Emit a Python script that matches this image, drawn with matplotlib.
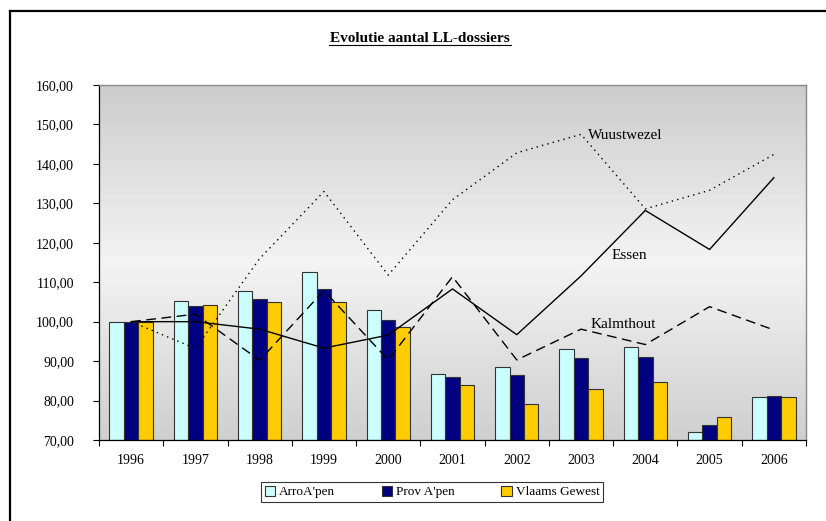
import numpy as np
import matplotlib
matplotlib.use("Agg")
import matplotlib.pyplot as plt
from matplotlib.lines import Line2D
from matplotlib.ticker import FuncFormatter

plt.rcParams["font.family"] = ["Liberation Serif", "DejaVu Serif"]

# ── data ──────────────────────────────────────────────────────────────────────
years = ["1996", "1997", "1998", "1999", "2000", "2001",
         "2002", "2003", "2004", "2005", "2006"]

arro = [100.0, 105.3, 107.9, 112.7, 103.0, 86.8, 88.5, 93.0, 93.5, 72.0, 81.0]
prov = [100.0, 103.9, 105.8, 108.2, 100.5, 85.9, 86.4, 90.8, 91.0, 73.7, 81.2]
vlaams = [100.0, 104.1, 104.9, 104.9, 98.7, 83.9, 79.1, 83.0, 84.8, 75.9, 81.0]

wuustwezel = [100.0, 93.2, 116.0, 133.0, 111.8, 130.9, 142.8, 147.5, 128.6, 133.3, 142.4]
essen = [100.0, 100.0, 98.1, 93.3, 96.6, 108.3, 96.7, 111.6, 128.2, 118.3, 136.5]
kalmthout = [100.0, 101.9, 90.2, 107.9, 90.3, 111.4, 90.3, 98.1, 94.2, 103.8, 97.9]

bar_names = ["ArroA'pen", "Prov A'pen", "Vlaams Gewest"]
bar_colors = ["#CCFFFF", "#000080", "#FFCC00"]

# ── figure ────────────────────────────────────────────────────────────────────
fig = plt.figure(figsize=(8.26, 5.21), dpi=100)
fig.patch.set_facecolor("white")
ax = fig.add_axes([99 / 826, 1 - 440 / 521, 707 / 826, 355 / 521])

# gradient background (gray -> light -> gray)
grad = np.concatenate([np.linspace(0.80, 0.95, 50), np.linspace(0.95, 0.81, 50)])
grad = grad.reshape(-1, 1)
ax.imshow(grad, cmap="gray", vmin=0, vmax=1, aspect="auto",
          extent=[0, 1, 0, 1], transform=ax.transAxes, zorder=0)

x = np.arange(len(years))
w = 0.225
for i, (vals, col) in enumerate(zip([arro, prov, vlaams], bar_colors)):
    ax.bar(x + (i - 1) * w, np.array(vals) - 70, w, bottom=70, color=col,
           edgecolor="#333333", linewidth=0.8, zorder=2, label=bar_names[i])

ax.plot(x, wuustwezel, color="black", lw=1.0, ls=(0, (1, 3)), zorder=3)
ax.plot(x, essen, color="black", lw=1.0, ls="-", zorder=3)
ax.plot(x, kalmthout, color="black", lw=1.0, ls=(0, (7, 4)), zorder=3)

ax.text(7.11, 147.3, "Wuustwezel", fontsize=11, va="center", ha="left", zorder=4)
ax.text(7.48, 116.9, "Essen", fontsize=11, va="center", ha="left", zorder=4)
ax.text(7.14, 99.2, "Kalmthout", fontsize=11, va="center", ha="left", zorder=4)

ax.set_xlim(-0.5, len(years) - 0.5)
ax.set_ylim(70, 160)
ax.set_yticks(np.arange(70, 161, 10))
ax.yaxis.set_major_formatter(FuncFormatter(lambda v, p: f"{v:.2f}".replace(".", ",")))
ax.set_xticks(np.arange(-0.5, len(years), 1.0))
ax.set_xticklabels([])
ax.set_xticks(x, minor=True)
ax.set_xticklabels(years, minor=True)
ax.tick_params(axis="x", which="major", direction="out", length=4, width=0.8)
ax.tick_params(axis="x", which="minor", length=0, pad=10, labelsize=10)
ax.tick_params(axis="y", direction="out", length=4, width=0.8, labelsize=10, pad=14)

for side in ["top", "right"]:
    ax.spines[side].set_color("#888888")
    ax.spines[side].set_linewidth(1.0)
for side in ["left", "bottom"]:
    ax.spines[side].set_color("black")
    ax.spines[side].set_linewidth(0.9)

fig.text(420 / 826, 1 - 42 / 521, "Evolutie aantal LL-dossiers", fontsize=11,
         fontweight="bold", ha="center", va="baseline")
fig.add_artist(Line2D([329 / 826, 511 / 826], [1 - 44.5 / 521, 1 - 44.5 / 521],
                      color="black", lw=0.8))

leg = fig.legend(loc="center", bbox_to_anchor=(432 / 826, 1 - 492 / 521), ncol=3,
                 fontsize=9.5, frameon=True, fancybox=False, edgecolor="black",
                 handlelength=0.8, handleheight=0.8, handletextpad=0.3,
                 columnspacing=3.5, borderpad=0.3)
leg.get_frame().set_linewidth(0.8)

# outer chart frame
fig.add_artist(Line2D([10 / 826, 1.0], [1 - 11 / 521, 1 - 11 / 521], color="black", lw=1.6))
fig.add_artist(Line2D([10 / 826, 10 / 826], [1 - 11 / 521, 0.0], color="black", lw=1.6))

fig.savefig("out.png", dpi=100)
